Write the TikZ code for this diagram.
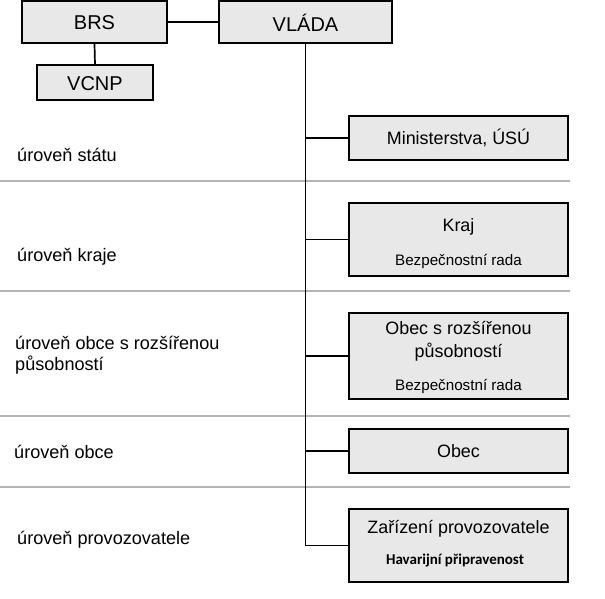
\documentclass[tikz,border=0pt]{standalone}
\usepackage{fontspec}
\setmainfont{Liberation Sans}
\newfontfamily\carl{Carlito}
\begin{document}
\begin{tikzpicture}[x=1pt,y=-1pt,
  box/.style={draw=black,line width=1.7pt,fill=boxgray,inner sep=0pt},
  conn/.style={line width=1.7pt},
  sep/.style={draw=sepgray,line width=1.8pt},
  lvl/.style={anchor=west,inner sep=0pt,font=\fontsize{18.1}{21}\selectfont},
  ttl/.style={inner sep=0pt,font=\fontsize{17.9}{21}\selectfont},
  big/.style={inner sep=0pt,font=\fontsize{20}{24}\selectfont},
  sub/.style={inner sep=0pt,font=\fontsize{15.2}{17}\selectfont},
  subb/.style={inner sep=0pt,font=\carl\fontsize{15}{17}\selectfont\bfseries}]
\definecolor{boxgray}{HTML}{E8E8E8}
\definecolor{sepgray}{HTML}{B4B4B4}
\useasboundingbox[fill=white] (0,0) rectangle (605,598);
% separators
\draw[sep] (0,181) -- (570,181);
\draw[sep] (0,291) -- (570,291);
\draw[sep] (0,416) -- (570,416);
\draw[sep] (0,487) -- (570,487);
% top boxes
\node[box,minimum width=145pt,minimum height=42pt] (brs) at (94.5,22) {};
\node[big] (brst) at (94.5,23) {BRS};
\node[box,minimum width=173pt,minimum height=42pt] (vlada) at (305.5,22) {};
\node[big] (vladat) at (305.5,23) {VLÁDA};
\node[box,minimum width=116pt,minimum height=35pt] (vcnp) at (95,82.5) {};
\node[big] (vcnpt) at (95,83.5) {VCNP};
% level boxes
\node[box,minimum width=219pt,minimum height=44pt] (min) at (458.5,138) {};
\node[ttl] (mint) at (458.5,138) {Ministerstva, ÚSÚ};
\node[box,minimum width=219pt,minimum height=73pt] (kraj) at (458.5,239.5) {};
\node[ttl] (krajt) at (458.5,227) {Kraj};
\node[sub] (krajs) at (458.5,261) {Bezpečnostní rada};
\node[box,minimum width=219pt,minimum height=86pt] (orp) at (458.5,356) {};
\node[ttl] (orpt1) at (458.5,328) {Obec s rozšířenou};
\node[ttl] (orpt2) at (458.5,352) {působností};
\node[sub] (orps) at (458.5,386) {Bezpečnostní rada};
\node[box,minimum width=219pt,minimum height=44pt] (obec) at (458.5,451) {};
\node[ttl] (obect) at (458.5,451) {Obec};
\node[box,minimum width=219pt,minimum height=73pt] (zar) at (458.5,545.5) {};
\node[ttl] (zart) at (458.5,529) {Zařízení provozovatele};
\node[subb] (zars) at (455,560) {Havarijní připravenost};
% connectors
\coordinate (vend) at (305.5,545.5);
\draw[conn] (brs.east) -- (vlada.west);
\draw[conn] (brs.south) -- (vcnp.north);
\draw[conn] (vlada.south) -- (vend) -- (zar.west);
\draw[conn] (vlada.south |- min.west) -- (min.west);
\draw[conn] (vlada.south |- kraj.west) -- (kraj.west);
\draw[conn] (vlada.south |- orp.west) -- (orp.west);
\draw[conn] (vlada.south |- obec.west) -- (obec.west);
% level labels
\node[lvl] (l1) at (17,155) {úroveň státu};
\node[lvl] (l2) at (17,257) {úroveň kraje};
\node[lvl] (l3a) at (15,343) {úroveň obce s rozšířenou};
\node[lvl] (l3b) at (15,365) {působností};
\node[lvl] (l4) at (14,452) {úroveň obce};
\node[lvl] (l5) at (17,540) {úroveň provozovatele};
\end{tikzpicture}
\end{document}
